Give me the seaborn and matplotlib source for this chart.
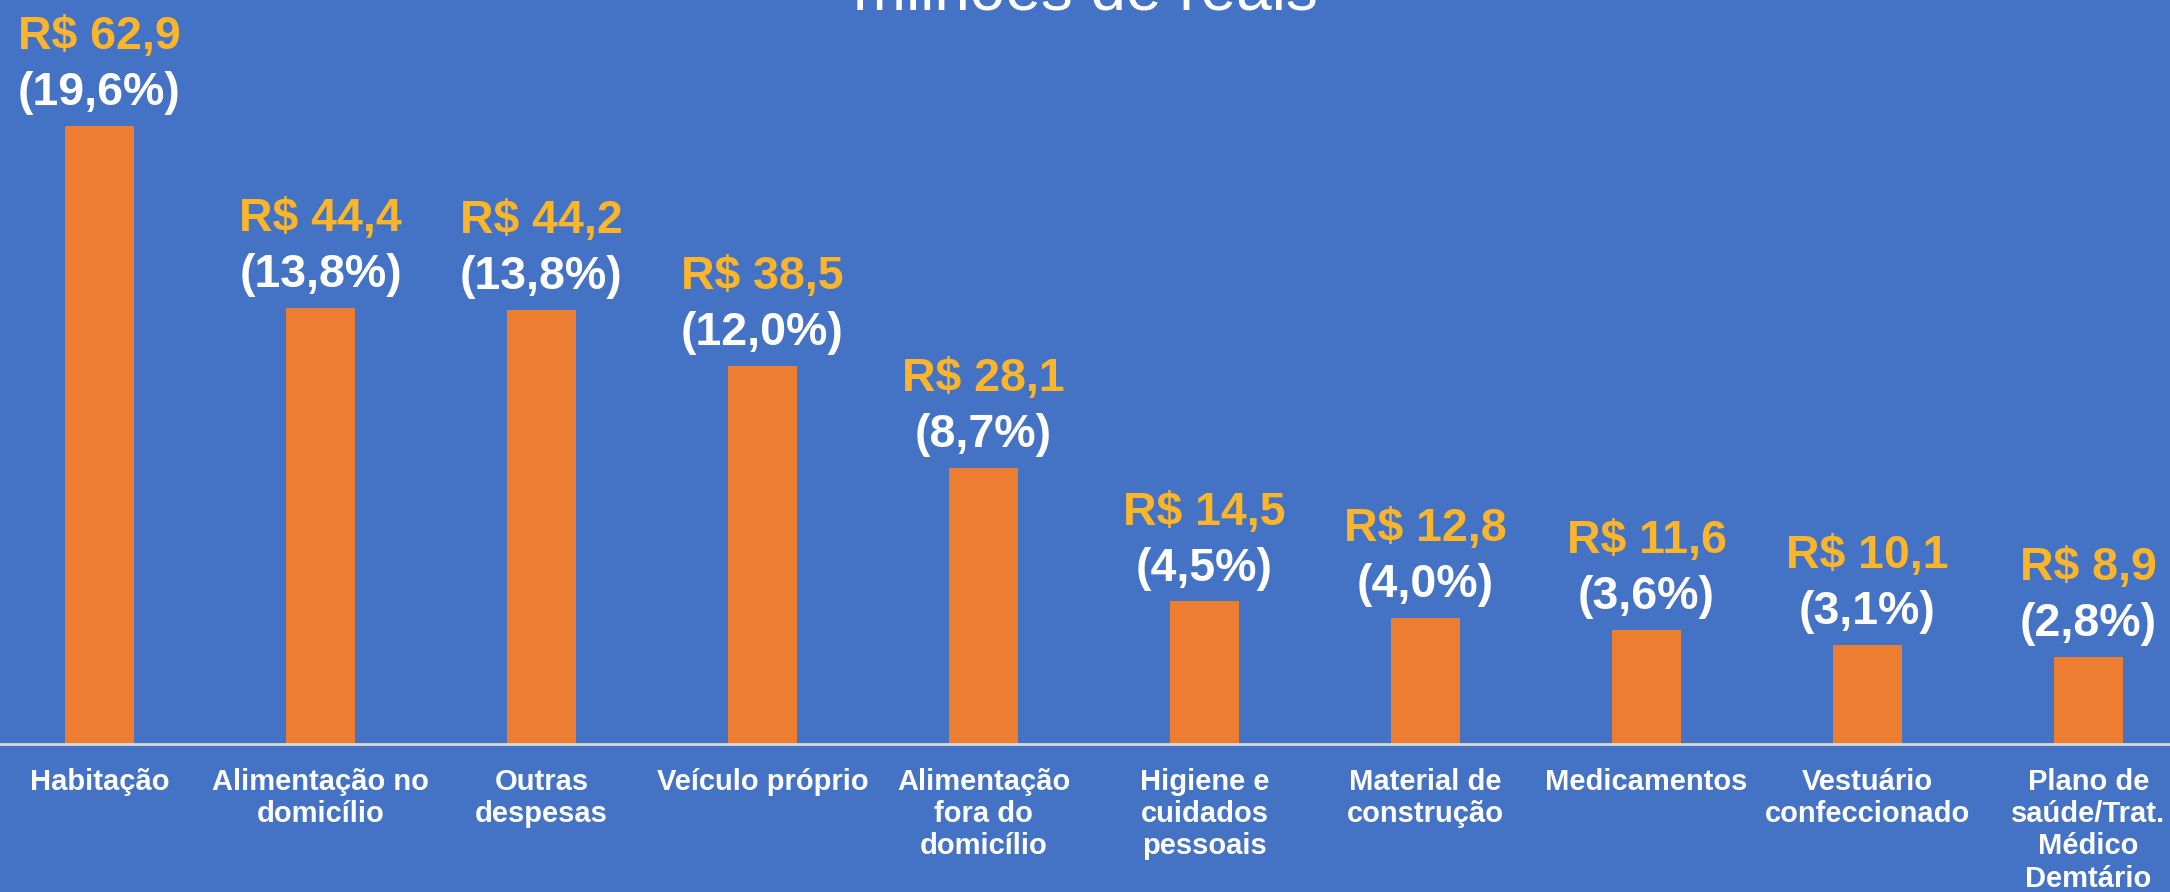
import numpy as np
import pandas as pd
import matplotlib
matplotlib.use('Agg')
import matplotlib.pyplot as plt
import seaborn as sns

# ────────────────────────────────────────────────────────
# Dados (valores em R$ e participação %)
categorias = [
    'Habitação',
    'Alimentação no\ndomicílio',
    'Outras\ndespesas',
    'Veículo próprio',
    'Alimentação\nfora do\ndomicílio',
    'Higiene e\ncuidados\npessoais',
    'Material de\nconstrução',
    'Medicamentos',
    'Vestuário\nconfeccionado',
    'Plano de\nsaúde/Trat.\nMédico\nDemtário',
]
valores = [62.9, 44.4, 44.2, 38.5, 28.1, 14.5, 12.8, 11.6, 10.1, 8.9]
percentuais = [19.6, 13.8, 13.8, 12.0, 8.7, 4.5, 4.0, 3.6, 3.1, 2.8]
titulo = 'milhões de reais'

df = pd.DataFrame({'categoria': categorias, 'valor': valores, 'pct': percentuais})

# ────────────────────────────────────────────────────────
# Cores
fundo = '#4472C4'
laranja = '#ED7D31'
amarelo = '#FBB52A'

sns.set_style('white')
plt.rcParams['font.family'] = ['Liberation Sans', 'DejaVu Sans']

fig = plt.figure(figsize=(21.7, 8.92), dpi=100, facecolor=fundo)
ax = fig.add_axes([-11 / 2170, 1 - 744 / 892, 2210 / 2170, 744 / 892])
ax.set_facecolor(fundo)

sns.barplot(data=df, x='categoria', y='valor', color=laranja,
            saturation=1, width=0.312, linewidth=0, edgecolor=laranja, ax=ax)

ax.set_xlim(-0.5, len(categorias) - 0.5)
ax.set_ylim(0, 75.7)
ax.set_xlabel('')
ax.set_ylabel('')
ax.set_yticks([])
for lado in ['top', 'left', 'right']:
    ax.spines[lado].set_visible(False)
ax.spines['bottom'].set_color('#D9D9D9')
ax.spines['bottom'].set_linewidth(2)

ax.tick_params(axis='x', length=0, pad=17, labelsize=21, labelcolor='white')
for lbl in ax.get_xticklabels():
    lbl.set_fontweight('bold')
    lbl.set_linespacing(1.2)

# rótulos de dados
for i, (v, p) in enumerate(zip(valores, percentuais)):
    ax.annotate(f'R$ {v:.1f}'.replace('.', ','), (i, v),
                xytext=(0, 55.4), textcoords='offset points',
                ha='center', va='baseline', fontsize=33.5,
                fontweight='bold', color=amarelo)
    ax.annotate(f'({p:.1f}%)'.replace('.', ','), (i, v),
                xytext=(0, 15.1), textcoords='offset points',
                ha='center', va='baseline', fontsize=33.5,
                fontweight='bold', color='white')

fig.text(0.5, 1 - 10 / 892, titulo, ha='center', va='baseline',
         fontsize=46, color='white')

plt.savefig('out.png', dpi=100, facecolor=fundo)
print("Saved out.png")
